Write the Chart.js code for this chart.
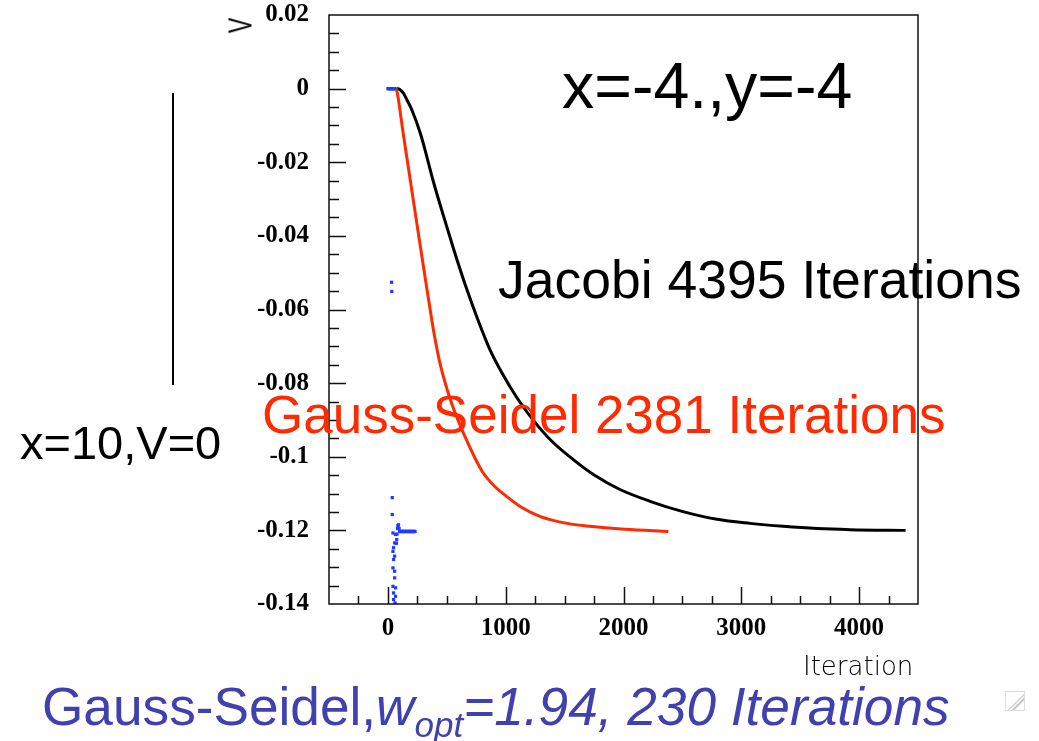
<!DOCTYPE html>
<html>
<head>
<meta charset="utf-8">
<script src="https://cdn.jsdelivr.net/npm/chart.js@4"></script>
<style>
  body { margin: 0; background: #fff; }
  #wrap { position: relative; width: 1039px; height: 741px; overflow: hidden; }
  #wrap canvas { position: absolute; left: 0; top: 0; }
  .t { position: absolute; white-space: nowrap; line-height: 1; font-family: "Liberation Sans", Arial, sans-serif; }
</style>
</head>
<body>
<div id="wrap">
  <canvas id="chart" width="1039" height="741"></canvas>
  <div class="t" style="left:562px; top:54px; font-size:64.5px; color:#000;">x=-4.,y=-4</div>
  <div class="t" style="left:498px; top:253px; font-size:53.5px; color:#000;">Jacobi 4395 Iterations</div>
  <div class="t" style="left:262px; top:388px; font-size:53px; color:#ff2a00;">Gauss-Seidel 2381 Iterations</div>
  <div class="t" style="left:20px; top:419px; font-size:47px; color:#000;">x=10,V=0</div>
  <div style="position:absolute; left:172px; top:93px; width:1.5px; height:292px; background:#000;"></div>
  <div class="t" style="left:803px; top:653px; font-size:26px; font-family:'DejaVu Sans'; font-weight:200; color:#000;">Iteration</div>
  <div class="t" style="left:229px; top:9px; font-size:33px; font-family:'Liberation Sans'; color:#000; transform: rotate(-90deg) scale(0.7, 1);">V</div>
  <div class="t" style="left:42px; top:680px; font-size:53.2px; color:#4040ae;">Gauss-Seidel,<i>w<sub style="font-size:35px; vertical-align:-12px;">opt</sub>=1.94, 230 Iterations</i></div>
  <div style="position:absolute; left:1005px; top:691px; width:18px; height:18px; border:1px solid #ddd; background:linear-gradient(135deg, #fff 55%, #bbb 56%, #fff 62%, #bbb 70%, #fff 76%);"></div>
</div>
<script>
// axis setup
const xMin = -500, xMax = 4500, xMajor = 1000, xMinor = 250;
const yMin = -0.14, yMax = 0.02, yMinor = 0.005;
const xTicks = [0, 1000, 2000, 3000, 4000];
const yTicks = [0.02, 0, -0.02, -0.04, -0.06, -0.08, -0.1, -0.12, -0.14];
const yTickLabels = ['0.02', '0', '-0.02', '-0.04', '-0.06', '-0.08', '-0.1', '-0.12', '-0.14'];

// Jacobi, 4395 iterations
const jacobiIter = [74, 99, 133, 159, 201, 278, 388, 473, 559, 661, 763, 865, 975, 1094, 1230, 1392, 1571, 1758, 1970, 2225, 2505, 2794, 3075, 3356, 3645, 3926, 4395];
const jacobiV = [0, -0.0002, -0.0013, -0.0029, -0.0056, -0.0124, -0.0255, -0.0347, -0.0437, -0.0537, -0.0627, -0.0708, -0.0776, -0.0839, -0.0899, -0.0958, -0.1007, -0.1051, -0.1089, -0.1121, -0.1149, -0.117, -0.1181, -0.1189, -0.1195, -0.1198, -0.12];

// Gauss-Seidel, 2381 iterations
const gsIter = [70, 82, 125, 163, 202, 257, 312, 372, 401, 435, 478, 529, 593, 665, 737, 805, 899, 1009, 1137, 1290, 1486, 1715, 2013, 2381];
const gsV = [0, -0.0015, -0.0111, -0.0192, -0.0274, -0.039, -0.0505, -0.0627, -0.0681, -0.0736, -0.079, -0.0844, -0.0899, -0.0953, -0.1002, -0.1042, -0.1078, -0.1108, -0.1138, -0.1162, -0.1179, -0.1189, -0.1197, -0.1203];

// Gauss-Seidel with over-relaxation, 230 iterations (scattered points)
const sorIter = [0, 6, 12, 18, 24, 30, 36, 42, 48, 54, 60,
  31, 33, 37, 37, 43, 65, 57, 48, 43, 57, 48, 43, 57, 57, 43, 65, 48, 65, 48, 60,
  72, 75, 78, 82, 85, 90, 95, 100, 106, 112, 118, 124, 130, 136, 142, 148, 154, 160, 166, 172, 178, 184, 190, 196, 202, 208, 214, 220, 226, 230];
const sorV = [0, 0, 0, 0, 0, 0, 0, 0, 0, 0, 0,
  -0.0526, -0.0551, -0.1111, -0.1157, -0.1207, -0.1211, -0.1234, -0.1247, -0.1257, -0.127, -0.1279, -0.1302, -0.1311, -0.1329, -0.1352, -0.1356, -0.137, -0.1379, -0.1388, -0.1397,
  -0.1235, -0.1225, -0.121, -0.1195, -0.1187, -0.1185, -0.1195, -0.1203, -0.1203, -0.1203, -0.1203, -0.1203, -0.1203, -0.1203, -0.1203, -0.1203, -0.1203, -0.1203, -0.1203, -0.1203, -0.1203, -0.1203, -0.1203, -0.1203, -0.1203, -0.1203, -0.1203, -0.1203, -0.1203, -0.1203];

const toPoints = (xs, ys) => xs.map((x, i) => ({ x: x, y: ys[i] }));

// frame + inward tick marks like the original plot
const frameTicks = {
  id: 'frameTicks',
  afterDatasetsDraw(chart) {
    const { ctx, chartArea: a, scales: { x, y } } = chart;
    ctx.save();
    ctx.strokeStyle = '#111';
    ctx.lineWidth = 1.5;
    ctx.strokeRect(a.left, a.top, a.right - a.left, a.bottom - a.top);
    ctx.beginPath();
    const nx = Math.round((xMax - xMin) / xMinor);
    for (let i = 1; i < nx; i++) {
      const v = xMin + i * xMinor;
      const px = Math.round(x.getPixelForValue(v)) + 0.5;
      const len = v % xMajor === 0 ? 17 : 8;
      ctx.moveTo(px, a.bottom);
      ctx.lineTo(px, a.bottom - len);
    }
    const ny = Math.round((yMax - yMin) / yMinor);
    for (let i = 1; i < ny; i++) {
      const py = Math.round(y.getPixelForValue(yMin + i * yMinor)) + 0.5;
      const len = i % 4 === 0 ? 17 : 10;
      ctx.moveTo(a.left, py);
      ctx.lineTo(a.left + len, py);
    }
    ctx.stroke();
    ctx.restore();
  }
};

const tickFont = { family: 'Liberation Serif', weight: 'bold', size: 25 };

new Chart(document.getElementById('chart').getContext('2d'), {
  type: 'scatter',
  data: {
    datasets: [
      {
        label: 'SOR',
        data: toPoints(sorIter, sorV),
        showLine: false,
        pointStyle: 'rect',
        pointRadius: 2.3,
        backgroundColor: '#1f3cff',
        borderColor: '#1f3cff',
        borderWidth: 0
      },
      {
        label: 'Gauss-Seidel',
        data: toPoints(gsIter, gsV),
        showLine: true,
        pointRadius: 0,
        borderColor: '#ff2a00',
        borderWidth: 3,
        cubicInterpolationMode: 'monotone'
      },
      {
        label: 'Jacobi',
        data: toPoints(jacobiIter, jacobiV),
        showLine: true,
        pointRadius: 0,
        borderColor: '#000',
        borderWidth: 3,
        cubicInterpolationMode: 'monotone'
      }
    ]
  },
  options: {
    responsive: false,
    animation: false,
    devicePixelRatio: 1,
    layout: { padding: { top: 15, right: 121, left: 0, bottom: 0 } },
    plugins: { legend: { display: false }, tooltip: { enabled: false } },
    scales: {
      x: {
        type: 'linear',
        min: xMin,
        max: xMax,
        grid: { display: false },
        border: { display: false },
        afterBuildTicks: s => { s.ticks = xTicks.map(v => ({ value: v })); },
        afterFit: s => { s.height = 137; s.paddingLeft = 0; s.paddingRight = 0; },
        ticks: { font: tickFont, color: '#000', padding: 2, maxRotation: 0, autoSkip: false, callback: v => String(v) }
      },
      y: {
        type: 'linear',
        min: yMin,
        max: yMax,
        grid: { display: false },
        border: { display: false },
        afterBuildTicks: s => { s.ticks = yTicks.map(v => ({ value: v })); },
        afterFit: s => { s.width = 329; s.paddingTop = 0; s.paddingBottom = 0; },
        ticks: {
          font: tickFont,
          color: '#000',
          padding: 12,
          autoSkip: false,
          callback: (v, i) => yTickLabels[i]
        }
      }
    }
  },
  plugins: [frameTicks]
});
</script>
</body>
</html>
